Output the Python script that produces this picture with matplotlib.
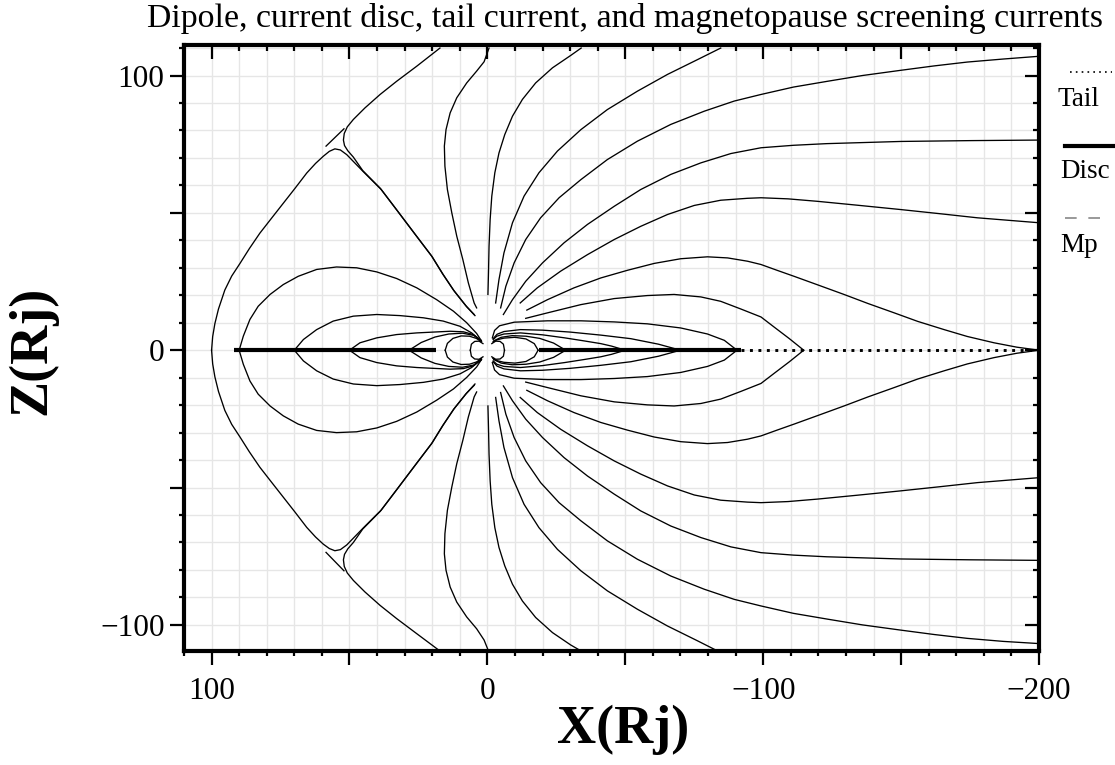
import matplotlib.pyplot as plt
from matplotlib.lines import Line2D
from matplotlib.ticker import MultipleLocator, FuncFormatter

plt.rcParams['font.family'] = ['Liberation Serif', 'DejaVu Serif']

# ---------------- field lines (X, Z in Rj) ----------------
# dayside, north
mp_n = [(100, 0), (99.6, 5), (98.8, 9.7), (97.5, 15), (95.2, 21.9), (92.7, 27), (89.7, 31.6),
        (86.3, 37), (82.5, 42.6), (78.3, 48), (74, 53.5), (69.7, 59), (65.5, 64.5), (62.3, 68),
        (59.5, 70.6), (57.3, 72.4), (55.3, 73.3), (53.3, 72.9), (51, 71.2), (45, 65),
        (38.5, 58.5), (32.9, 51.1), (25.6, 41.4), (20, 34), (16, 27.5), (12, 21.5), (7.5, 15.8),
        (4.5, 12.6)]
top_n = [(17.2, 110), (25.6, 103.4), (32.9, 97.9), (38.9, 93.1), (44.4, 88.2), (48.6, 84),
         (50.8, 81.3), (51.9, 78.9), (52.2, 76.5), (51.8, 74.5), (50.6, 72.6), (48.6, 70.3),
         (45.2, 65.4), (38.8, 58.9), (33.2, 51.5), (25.9, 41.8), (20.3, 34.4), (16.3, 27.9),
         (12.3, 21.9), (7.8, 16.2), (4.8, 13)]
stub_n = [(58.5, 74.3), (52, 80.6)]
f_n = [(3.9, 15.4), (4.8, 17.2), (6.9, 24.5), (8.9, 33), (11.1, 41.5), (12.9, 50), (14.5, 58.5),
       (15.4, 67), (15.6, 74.3), (15, 80.3), (13.5, 86.4), (11.1, 91.9), (7.5, 97.3), (3.9, 101.6),
       (1.2, 105), (-0.6, 110)]
b_n = [(90, 0), (88.5, 5.1), (86.1, 11.2), (83.1, 16), (78.8, 20.3), (74, 23.9), (68.6, 26.9),
       (61.9, 29.4), (54.7, 30.3), (47.4, 30), (40.1, 28.5), (32.9, 26.1), (25.6, 22.7),
       (18.4, 18.4), (12.3, 14.2), (7.5, 10), (3.9, 6.1), (2.1, 3.3)]
c_n = [(70, 0), (66.7, 3.9), (61.9, 7.5), (55.9, 10.6), (48.6, 12.4), (40.1, 13), (31.7, 12.6),
       (23.2, 11.8), (16, 10.6), (9.9, 8.7), (5.7, 6.3), (2.3, 3.3)]
d_n = [(50, 0), (46.2, 2.7), (40.1, 4.5), (32.9, 5.7), (25.6, 6.3), (19.6, 6.6), (13.5, 6.9),
       (8.7, 6.7), (5.1, 5.7), (2.3, 3.6)]
k28_n = [(28.4, 0), (24, 2.8), (19, 4.8), (14, 5.9), (9, 6.2), (5, 5.4), (2.3, 3.5)]
k19_n = [(15.3, 0), (14.5, 2.5), (12.5, 4.3), (9.5, 5.2), (6.5, 5.1), (4, 4.3), (2.2, 3.1)]
loop_w_n = [(1.6, 2.4), (3, 3.3), (4.6, 3.2), (5.8, 2.2), (6.2, 0)]

# dayside, south
mp_s = [(100, 0), (99.6, -5), (98.8, -9.7), (97.5, -15), (95.2, -21.9), (92.7, -27), (89.7, -31.6),
        (86.3, -37), (82.5, -42.6), (78.3, -48), (74, -53.5), (69.7, -59), (65.5, -64.5),
        (62.3, -68), (59.5, -70.6), (57.3, -72.2), (55.3, -73), (53.3, -72.6), (51, -70.9),
        (45, -64.7), (38.5, -58.2), (32.9, -50.8), (25.6, -41.1), (20, -33.7), (16, -27.2),
        (12, -21.2), (7.5, -15.6), (4.5, -12.3)]
bot_s = [(17.2, -109.5), (25.6, -103.2), (32.9, -97.7), (38.9, -92.9), (44.4, -88), (48.6, -83.8),
         (50.8, -81.1), (51.9, -78.7), (52.2, -76.3), (51.8, -74.3), (50.6, -72.3), (48.6, -70),
         (45.2, -65.1), (38.8, -58.6), (33.2, -51.2), (25.9, -41.5), (20.3, -34.1), (16.3, -27.6),
         (12.3, -21.6), (7.8, -15.9), (4.8, -12.8)]
stub_s = [(58.5, -73.6), (52, -80.3)]
f_s = [(3.9, -15.2), (4.8, -17), (6.9, -24.3), (8.9, -32.8), (11.1, -41.3), (12.9, -49.8),
       (14.5, -58.3), (15.4, -66.8), (15.6, -74.1), (15, -80.1), (13.5, -86.2), (11.1, -91.7),
       (7.5, -97.1), (3.9, -101.4), (1.2, -105.5), (-0.4, -109.5)]
b_s = [(90, 0), (88.5, -5.1), (86.1, -11.2), (83.1, -16), (78.8, -20.3), (74, -23.9),
       (68.6, -26.9), (61.9, -29.2), (54.7, -30), (47.4, -29.7), (40.1, -28.3), (32.9, -25.9),
       (25.6, -22.5), (18.4, -18.2), (12.3, -14.1), (7.5, -9.9), (3.9, -6.1), (2.1, -3.3)]
c_s = [(70, 0), (66.7, -3.9), (61.9, -7.5), (55.9, -10.5), (48.6, -12.3), (40.1, -12.9),
       (31.7, -12.5), (23.2, -11.7), (16, -10.5), (9.9, -8.6), (5.7, -6.3), (2.3, -3.3)]
d_s = [(50, 0), (46.2, -2.7), (40.1, -4.5), (32.9, -5.7), (25.6, -6.3), (19.6, -6.6),
       (13.5, -6.9), (8.7, -6.7), (5.1, -5.7), (2.3, -3.6)]
k28_s = [(28.4, 0), (24, -2.8), (19, -4.8), (14, -5.9), (9, -6.2), (5, -5.4), (2.3, -3.5)]
k19_s = [(15.3, 0), (14.5, -2.5), (12.5, -4.3), (9.5, -5.2), (6.5, -5.1), (4, -4.3), (2.2, -3.1)]
loop_w_s = [(1.6, -2.4), (3, -3.3), (4.6, -3.2), (5.8, -2.2), (6.2, 0)]

# nightside, north
l2_n = [(-0.2, 20.3), (-0.4, 28.2), (-0.6, 37.9), (-1, 47.6), (-1.6, 56.1), (-2.7, 64.6),
        (-4.2, 71.8), (-6.3, 78.5), (-9.1, 85.2), (-12.7, 91.3), (-17.5, 97.3), (-23.6, 102.8),
        (-30.2, 107.3), (-34, 110)]
l3_n = [(-3, 17.2), (-4.2, 25.7), (-6, 35.4), (-9.1, 46.4), (-13.3, 56.1), (-18.7, 64.6),
        (-25.4, 72.5), (-33.9, 80.3), (-43.5, 87.6), (-54.4, 94.3), (-65.3, 100.4),
        (-76.2, 105.8), (-84.6, 110)]
l4_n = [(-4.8, 15.4), (-6.7, 23.3), (-9.7, 31.8), (-13.9, 40.3), (-19.3, 48.2), (-26, 55.5),
        (-33.9, 62.1), (-43.5, 69.4), (-54.4, 76.1), (-66.5, 82.2), (-78.6, 87), (-89.5, 90.7),
        (-99.2, 93.1), (-111, 95.8), (-123.3, 97.9), (-136, 100), (-149.9, 101.9), (-162, 103.5),
        (-174, 104.9), (-187, 106), (-200, 107)]
l5_n = [(-5.8, 13), (-9.1, 18.4), (-13.9, 25.1), (-20, 31.8), (-27.8, 39.1), (-36.3, 45.8),
        (-46, 52.4), (-55.6, 58.5), (-66.5, 64), (-77.4, 68.2), (-88.3, 71.6), (-99.2, 73.7),
        (-111, 74.6), (-123, 75.2), (-150, 76), (-175, 76.3), (-200, 76.5)]
l6_n = [(-11.9, 17.2), (-18.1, 22.7), (-26.6, 28.8), (-36.3, 34.8), (-46, 40.3), (-55.6, 45.1),
        (-65.3, 49.4), (-75, 52.7), (-84.6, 54.6), (-94.3, 55.3), (-99.2, 55.5), (-109, 55.1),
        (-119.7, 54.2), (-134, 52.8), (-149.9, 51.2), (-164, 49.7), (-177.7, 48.2), (-200, 46.4)]
l7_n = [(-14.3, 14.6), (-21.8, 18.4), (-31.4, 22.7), (-41.1, 26.3), (-50.8, 29.1), (-60.5, 31.6),
        (-70.1, 33.3), (-79.8, 34), (-87.1, 33.6), (-94.3, 32.4), (-99.2, 31.2), (-105, 29.1),
        (-111.2, 26.9), (-120, 23.7), (-129.3, 20.3), (-138, 17), (-147.5, 13.6), (-156, 10.5),
        (-165.6, 7.5), (-174, 5), (-183.7, 2.7), (-192, 1.1), (-200, 0)]
l8_n = [(-13.9, 11.6), (-21.8, 13.6), (-33.9, 16.6), (-46, 18.8), (-58, 19.9), (-67.7, 20.3),
        (-77.4, 19.4), (-84.6, 17.8), (-91.9, 15), (-99.2, 12.1), (-104, 8.4), (-109.5, 4.2),
        (-114.7, 0)]
l9_n = [(-1.8, 4.5), (-2.6, 7.2), (-4.4, 8.9), (-9.7, 10.2), (-21.8, 10.7), (-33.9, 10.7),
        (-46, 10.3), (-58, 9.6), (-70.1, 8.1), (-79.8, 5.9), (-85.9, 3.6), (-90.5, 0)]
l10_n = [(-2.1, 4.2), (-3.5, 5.8), (-6, 6.8), (-12, 7.5), (-20, 7.3), (-30, 6.6), (-41.1, 5.5),
         (-52, 4.2), (-62, 2.2), (-70, 0)]
l11_n = [(-2.1, 3.9), (-3.4, 5.1), (-6, 5.9), (-12, 6.3), (-20, 5.6), (-28, 4.5), (-35, 3.4),
         (-41.1, 2.4), (-45, 1.5), (-50, 0)]
k28_e_n = [(-28.4, 0), (-24, 2.6), (-19, 4.3), (-14, 5.1), (-9, 5.3), (-5, 4.7), (-2.3, 3.4)]
k19_e_n = [(-18.4, 0), (-17, 2.4), (-14, 4.1), (-10, 4.7), (-6, 4.4), (-3.5, 3.8), (-2, 3)]
loop_e_n = [(-1.6, 2.4), (-3, 3.3), (-4.6, 3.2), (-5.8, 2.2), (-6.2, 0)]

# nightside, south
l2_s = [(-0.2, -20.3), (-0.4, -28.2), (-0.6, -37.9), (-1, -47.6), (-1.6, -56.1), (-2.7, -64.6),
        (-4.2, -71.8), (-6.3, -78.5), (-9.1, -85.2), (-12.7, -91.3), (-17.5, -97.3),
        (-23.6, -102.8), (-30.2, -107.3), (-34, -109.5)]
l3_s = [(-3, -17.2), (-4.2, -25.7), (-6, -35.4), (-9.1, -46.4), (-13.3, -56.1), (-18.7, -64.6),
        (-25.4, -72.5), (-33.9, -80.3), (-43.5, -87.6), (-54.4, -94.3), (-65.3, -100.4),
        (-76.2, -105.8), (-83.5, -109.5)]
l4_s = [(-4.8, -15.4), (-6.7, -23.3), (-9.7, -31.8), (-13.9, -40.3), (-19.3, -48.2), (-26, -55.5),
        (-33.9, -62.1), (-43.5, -69.4), (-54.4, -76.1), (-66.5, -82.2), (-78.6, -87),
        (-89.5, -90.7), (-99.2, -93.1), (-111, -95.8), (-123.3, -97.9), (-136, -100),
        (-149.9, -101.9), (-162, -103.5), (-174, -104.9), (-187, -106), (-200, -106.8)]
l5_s = [(-5.8, -13), (-9.1, -18.4), (-13.9, -25.1), (-20, -31.8), (-27.8, -39.1), (-36.3, -45.8),
        (-46, -52.4), (-55.6, -58.5), (-66.5, -64), (-77.4, -68.2), (-88.3, -71.6), (-99.2, -73.7),
        (-111, -74.6), (-123, -75.2), (-150, -76), (-175, -76.3), (-200, -76.5)]
l6_s = [(-11.9, -17.2), (-18.1, -22.7), (-26.6, -28.8), (-36.3, -34.8), (-46, -40.3),
        (-55.6, -45.1), (-65.3, -49.4), (-75, -52.7), (-84.6, -54.6), (-94.3, -55.3),
        (-99.2, -55.5), (-109, -55.1), (-119.7, -54.2), (-134, -52.8), (-149.9, -51.2),
        (-164, -49.7), (-177.7, -48.2), (-200, -46.4)]
l7_s = [(-14.3, -14.6), (-21.8, -18.4), (-31.4, -22.7), (-41.1, -26.3), (-50.8, -29.1),
        (-60.5, -31.6), (-70.1, -33.3), (-79.8, -34), (-87.1, -33.6), (-94.3, -32.4),
        (-99.2, -31.2), (-105, -29.1), (-111.2, -26.9), (-120, -23.7), (-129.3, -20.3),
        (-138, -17), (-147.5, -13.6), (-156, -10.5), (-165.6, -7.5), (-174, -5), (-183.7, -2.7),
        (-192, -1.1), (-200, 0)]
l8_s = [(-13.9, -11.6), (-21.8, -13.6), (-33.9, -16.6), (-46, -18.8), (-58, -19.9), (-67.7, -20.3),
        (-77.4, -19.4), (-84.6, -17.8), (-91.9, -15), (-99.2, -12.1), (-104, -8.4),
        (-109.5, -4.2), (-114.7, 0)]
l9_s = [(-1.8, -4.5), (-2.6, -7.2), (-4.4, -8.9), (-9.7, -10.2), (-21.8, -10.7), (-33.9, -10.7),
        (-46, -10.3), (-58, -9.6), (-70.1, -8.1), (-79.8, -5.9), (-85.9, -3.6), (-90.5, 0)]
l10_s = [(-2.1, -4.2), (-3.5, -5.8), (-6, -6.8), (-12, -7.5), (-20, -7.3), (-30, -6.6),
         (-41.1, -5.5), (-52, -4.2), (-62, -2.2), (-70, 0)]
l11_s = [(-2.1, -3.9), (-3.4, -5.1), (-6, -5.9), (-12, -6.3), (-20, -5.6), (-28, -4.5),
         (-35, -3.4), (-41.1, -2.4), (-45, -1.5), (-50, 0)]
k28_e_s = [(-28.4, 0), (-24, -2.6), (-19, -4.3), (-14, -5.1), (-9, -5.3), (-5, -4.7), (-2.3, -3.4)]
k19_e_s = [(-18.4, 0), (-17, -2.4), (-14, -4.1), (-10, -4.7), (-6, -4.4), (-3.5, -3.8), (-2, -3)]
loop_e_s = [(-1.6, -2.4), (-3, -3.3), (-4.6, -3.2), (-5.8, -2.2), (-6.2, 0)]

# current sheets
disc_west = [92, 18.7]
disc_east = [-18.7, -92]
tail = [-92, -200]

field_lines = [mp_n, top_n, stub_n, f_n, b_n, c_n, d_n, k28_n, k19_n, loop_w_n,
               mp_s, bot_s, stub_s, f_s, b_s, c_s, d_s, k28_s, k19_s, loop_w_s,
               l2_n, l3_n, l4_n, l5_n, l6_n, l7_n, l8_n, l9_n, l10_n, l11_n, k28_e_n, k19_e_n, loop_e_n,
               l2_s, l3_s, l4_s, l5_s, l6_s, l7_s, l8_s, l9_s, l10_s, l11_s, k28_e_s, k19_e_s, loop_e_s]

# ---------------- figure ----------------
W, H = 1115, 765
fig = plt.figure(figsize=(W / 100, H / 100), dpi=100)
pos = [184 / W, 1 - 651 / H, (1039 - 184) / W, (651 - 45.3) / H]
ax = fig.add_axes(pos)
ax.set_xlim(110, -200)
ax.set_ylim(-109.5, 111)

for ln in field_lines:
    xs = [p[0] for p in ln]
    zs = [p[1] for p in ln]
    ax.plot(xs, zs, color='black', lw=0.95, solid_joinstyle='round', zorder=3)

ax.plot(disc_west, [0, 0], color='black', lw=3, solid_capstyle='butt', zorder=4)
ax.plot(disc_east, [0, 0], color='black', lw=3, solid_capstyle='butt', zorder=4)
ax.plot(tail, [0, 0], color='black', lw=2.1, linestyle=(0, (1, 1.9)), zorder=4)

# grid and ticks (left / bottom point outward)
for axis in (ax.xaxis, ax.yaxis):
    axis.set_major_locator(MultipleLocator(50))
    axis.set_minor_locator(MultipleLocator(10))
    axis.set_major_formatter(FuncFormatter(
        lambda v, p: ('%d' % v).replace('-', '\u2212') if v % 100 == 0 else ''))
ax.grid(which='both', color='#e6e6e6', lw=1.0, zorder=0)
ax.set_axisbelow(True)
for s in ax.spines.values():
    s.set_linewidth(3)
ax.tick_params(which='both', direction='out', width=1.6, labelsize=22.5)
ax.tick_params(which='major', length=10)
ax.tick_params(which='minor', length=3.6)
ax.tick_params(axis='x', pad=9)
ax.tick_params(axis='y', pad=4)

# top / right ticks point inward
ax2 = fig.add_axes(pos, facecolor='none')
ax2.set_xlim(ax.get_xlim())
ax2.set_ylim(ax.get_ylim())
for s in ax2.spines.values():
    s.set_visible(False)
for axis in (ax2.xaxis, ax2.yaxis):
    axis.set_major_locator(MultipleLocator(50))
    axis.set_minor_locator(MultipleLocator(10))
ax2.tick_params(which='both', direction='in', width=1.6, bottom=False, left=False, top=True,
                right=True, labelbottom=False, labelleft=False)
ax2.tick_params(which='major', length=10)
ax2.tick_params(which='minor', length=4.3)

# labels
fig.text(625 / W, 1 - 18 / H, 'Dipole, current disc, tail current, and magnetopause screening currents',
         ha='center', va='center', fontsize=24.4)
fig.text(623 / W, 1 - 730 / H, 'X(Rj)', ha='center', va='center', fontsize=39, fontweight='bold')
fig.text(32 / W, 1 - 350 / H, 'Z(Rj)', ha='center', va='center', fontsize=39, fontweight='bold',
         rotation=90)

# key on the right
fig.add_artist(Line2D([1070 / W, 1112 / W], [1 - 72 / H, 1 - 72 / H], color='black', lw=1.2,
                      linestyle=(0, (1, 2.5))))
fig.add_artist(Line2D([1065 / W, 1115 / W], [1 - 146 / H, 1 - 146 / H], color='black', lw=3))
fig.add_artist(Line2D([1065 / W, 1106 / W], [1 - 218 / H, 1 - 218 / H], color='#888888', lw=1.2,
                      linestyle=(0, (7, 7))))
fig.text(1058 / W, 1 - 100 / H, 'Tail', ha='left', va='center', fontsize=19.5)
fig.text(1060 / W, 1 - 172 / H, 'Disc', ha='left', va='center', fontsize=19.5)
fig.text(1060 / W, 1 - 245 / H, 'Mp', ha='left', va='center', fontsize=19.5)

fig.savefig('out.png', dpi=100)
